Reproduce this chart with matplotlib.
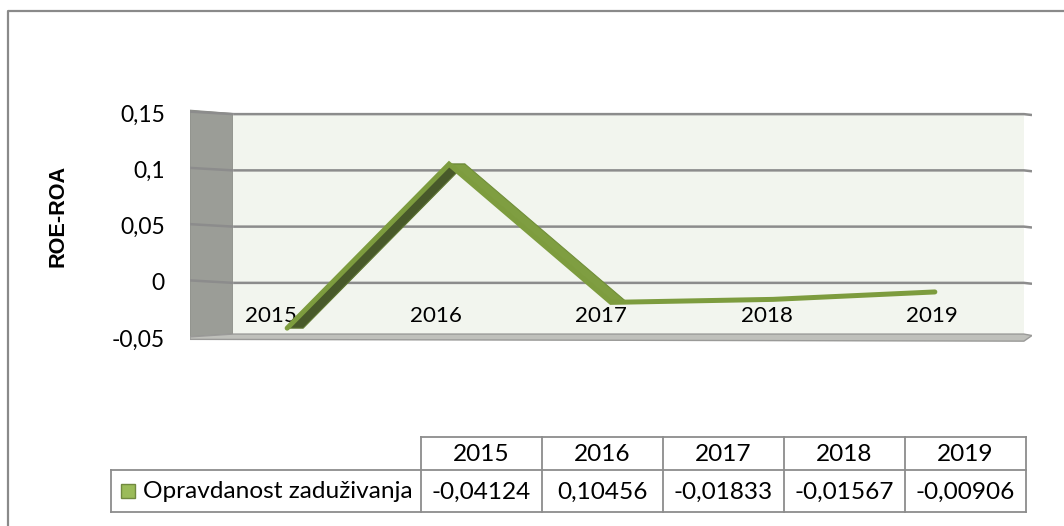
import matplotlib
matplotlib.use("Agg")
import matplotlib.pyplot as plt
import numpy as np
from matplotlib.patches import Polygon, Rectangle
from matplotlib.transforms import IdentityTransform

# ---------------- data ----------------
years = ["2015", "2016", "2017", "2018", "2019"]
values = [-0.04124, 0.10456, -0.01833, -0.01567, -0.00906]
series_name = "Opravdanost zaduživanja"
y_ticks = [-0.05, 0.0, 0.05, 0.1, 0.15]
y_tick_labels = ["-0,05", "0", "0,05", "0,1", "0,15"]
y_label = "ROE-ROA"

FONT = ["Lato", "DejaVu Sans"]
BOLD_FONT = ["Liberation Sans", "DejaVu Sans"]
W, H = 1064, 526
fig = plt.figure(figsize=(W / 100, H / 100), dpi=100)
fig.patch.set_facecolor("white")


def fit_size(text, family, target_px, weight="normal", base=20.0):
    t = fig.text(0, 0, text, fontsize=base, family=family, fontweight=weight)
    fig.canvas.draw()
    w = t.get_window_extent().width
    t.remove()
    return base * target_px / w


tick_fs = fit_size("0,05", FONT, 45)
cat_fs = fit_size("2016", FONT, 52)
table_fs = fit_size(series_name, FONT, 269)
ylab_fs = fit_size(y_label, BOLD_FONT, 102, weight="bold")

# ---------- main plot axes ----------
ax = fig.add_axes([190 / W, 1 - 345 / H, 842 / W, 240 / H])
ax.set_xlim(-0.6, 4.6)
ax.set_ylim(-0.05622, 0.15711)

x_side, x_back, x_right, x_end = -0.6, -0.3335, 4.55, 4.6
wall_top, wall_bot = 0.1495, -0.0465

# side wall
ax.add_patch(Polygon([(x_side, 0.1525), (x_back, wall_top), (x_back, wall_bot), (x_side, -0.049)],
                     closed=True, facecolor="#9B9D97", edgecolor="#8E908A", lw=0.8, zorder=1))
# back wall
ax.add_patch(Polygon([(x_back, wall_top), (x_right, wall_top), (x_right, wall_bot), (x_back, wall_bot)],
                     closed=True, facecolor="#F2F5EE", edgecolor="none", zorder=1))
# floor
ax.add_patch(Polygon([(x_side, -0.049), (x_back, wall_bot), (x_right, wall_bot), (x_end, -0.0478),
                      (x_right, -0.0528), (x_side, -0.0512)],
                     closed=True, facecolor="#BFC0BB", edgecolor="#9A9A98", lw=1.0, zorder=1.5))

# gridlines
for v in y_ticks[1:]:
    ax.plot([x_side, x_back], [v + 0.0012, v - 0.001], color="#8C8C8C", lw=1.8, zorder=2,
            solid_capstyle="butt")
    ax.plot([x_back, x_right, x_end], [v - 0.001, v - 0.001, v - 0.0018], color="#8C8C8C", lw=1.8,
            zorder=2, solid_capstyle="butt")

# y tick labels
ax.set_yticks(y_ticks)
ax.set_yticklabels(y_tick_labels)
for s in ax.spines.values():
    s.set_visible(False)
ax.set_xticks([])
ax.patch.set_visible(False)
ax.tick_params(axis="y", length=0, pad=18, labelsize=tick_fs)
for t in ax.get_yticklabels():
    t.set_fontfamily(FONT)
    t.set_color("black")

# category labels (floor front, slight perspective spread)
xs = np.arange(len(years))
for i, yr in enumerate(years):
    ax.text(-0.10 + 1.02 * i, -0.0305, yr, ha="center", va="center", fontsize=cat_fs,
            family=FONT, color="black", zorder=3)

# 3D ribbon line
fig.canvas.draw()
pts = ax.transData.transform(np.column_stack([xs, values]))
depth = np.array([16.0, 0.0])
for i in range(len(pts) - 1):
    p0, p1 = pts[i], pts[i + 1]
    slope = p1[1] - p0[1]
    if abs(slope) < 20:
        continue  # nearly flat segment: depth face not visible
    rising = slope > 0
    fc = "#48592A" if rising else "#7F9E41"
    ec = "#5D7530" if rising else "#708E38"
    ax.add_patch(Polygon([p0, p1, p1 + depth, p0 + depth], closed=True, transform=IdentityTransform(),
                         facecolor=fc, edgecolor=ec, lw=0.8, zorder=4))
ax.plot(xs, values, color="#7D9C3E", lw=3.6, solid_joinstyle="miter", solid_capstyle="round", zorder=5)

# y axis title
fig.text(58 / W, 1 - 216 / H, y_label, rotation=90, ha="center", va="center", fontsize=ylab_fs,
         fontweight="bold", family=BOLD_FONT)

# ---------- overlay axes for border + data table ----------
tax = fig.add_axes([0, 0, 1, 1])
tax.set_xlim(0, W)
tax.set_ylim(H, 0)
tax.axis("off")
tax.patch.set_visible(False)

# outer chart border (top & left visible)
tax.plot([8, 8, W + 20], [H + 20, 11, 11], color="#8A8A8A", lw=1.6, zorder=1)

grid_c = "#8C8C8C"
col_left, col_right = 421, 1026
leg_left = 111
top_y, mid_y, bot_y = 437, 470, 512
ncol = len(years)
cw = (col_right - col_left) / ncol
bounds = [col_left + cw * k for k in range(ncol + 1)]
lw_t = 1.3
tax.plot([col_left, col_right], [top_y, top_y], color=grid_c, lw=lw_t)
tax.plot([leg_left, col_right], [mid_y, mid_y], color=grid_c, lw=lw_t)
tax.plot([leg_left, col_right], [bot_y, bot_y], color=grid_c, lw=lw_t)
tax.plot([leg_left, leg_left], [mid_y, bot_y], color=grid_c, lw=lw_t)
for b in bounds:
    tax.plot([b, b], [top_y, bot_y], color=grid_c, lw=lw_t)

for k, yr in enumerate(years):
    cx = (bounds[k] + bounds[k + 1]) / 2
    tax.text(cx, (top_y + mid_y) / 2 + 1, yr, ha="center", va="center", fontsize=table_fs, family=FONT)
    tax.text(cx, (mid_y + bot_y) / 2 + 1, f"{values[k]:.5f}".replace(".", ","), ha="center",
             va="center", fontsize=table_fs, family=FONT)

tax.add_patch(Rectangle((121, 484), 14, 14, facecolor="#9BBB59", edgecolor="#71893F", lw=1.0))
tax.text(143, (mid_y + bot_y) / 2 + 1, series_name, ha="left", va="center", fontsize=table_fs,
         family=FONT)

fig.savefig("out.png", dpi=100)
